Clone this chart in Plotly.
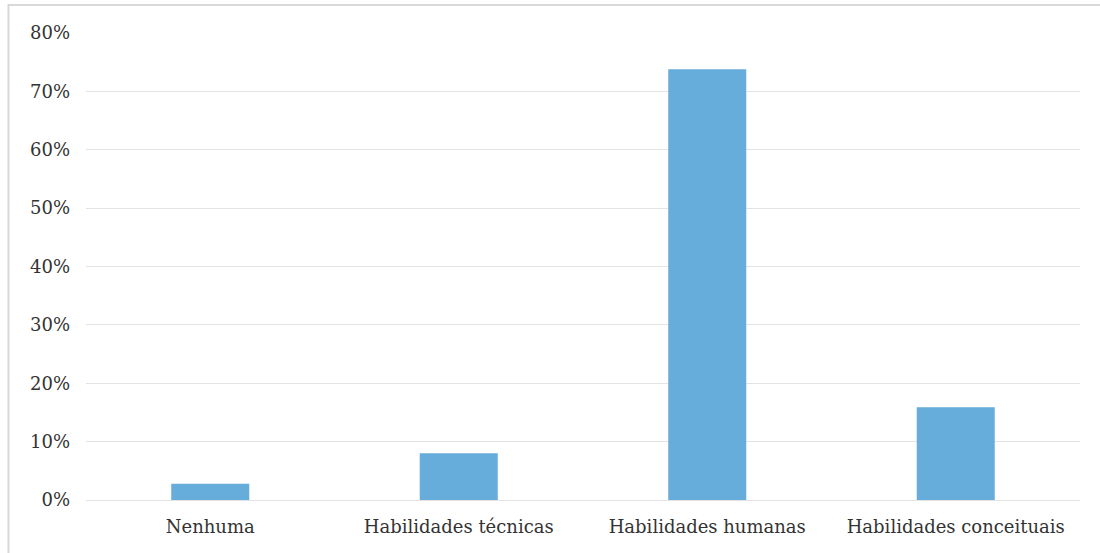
import plotly.graph_objects as go

categories = ["Nenhuma", "Habilidades técnicas", "Habilidades humanas", "Habilidades conceituais"]
values = [0.028, 0.08, 0.738, 0.159]
tick_vals = [0, 0.1, 0.2, 0.3, 0.4, 0.5, 0.6, 0.7, 0.8]
tick_text = ["0%", "10%", "20%", "30%", "40%", "50%", "60%", "70%", "80%"]

fig = go.Figure(go.Bar(x=categories, y=values, marker=dict(color="#67addb", line=dict(width=0)), width=0.314))

fig.update_layout(
    width=1100, height=553,
    margin=dict(l=86, r=20, t=33, b=53),
    paper_bgcolor="white", plot_bgcolor="white",
    font=dict(family="DejaVu Serif", size=18, color="#333333"),
    showlegend=False,
    xaxis=dict(showgrid=False, showline=False, zeroline=False, ticks="", ticklabelstandoff=14),
    yaxis=dict(range=[0, 0.8], tickvals=tick_vals, ticktext=tick_text, showgrid=True,
               gridcolor="#e3e3e3", gridwidth=1, zeroline=True, zerolinecolor="#e3e3e3",
               zerolinewidth=1, showline=False, ticks="", ticklabelstandoff=15),
    shapes=[dict(type="rect", xref="paper", yref="paper", x0=-0.078, x1=1.05, y0=-0.2, y1=1.06,
                 line=dict(color="#d9d9d9", width=2), layer="below")],
)

fig.write_html("out.html")
